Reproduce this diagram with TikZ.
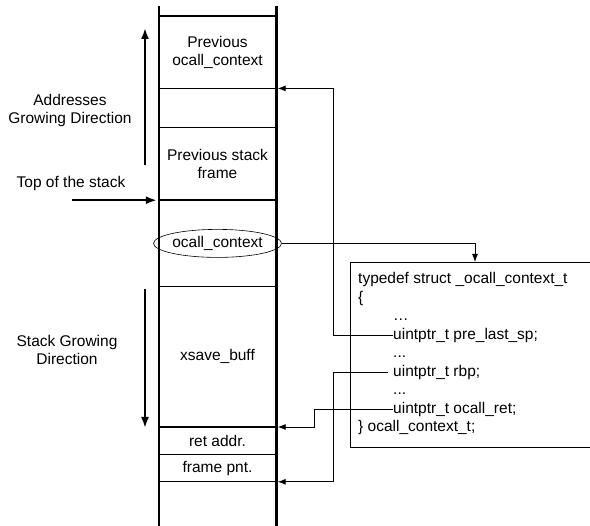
\documentclass[tikz,border=0pt]{standalone}
\usepackage{fontspec}
\setmainfont{Liberation Sans}
\usetikzlibrary{arrows.meta,positioning,shapes.geometric}

\begin{document}
\begin{tikzpicture}[x=1pt, y=-1pt,
    every node/.style={font=\fontsize{15.5}{18}\selectfont},
    cell/.style={rectangle, minimum width=117pt, inner sep=0pt, align=center},
    sep/.style={line width=1.4pt},
    wall/.style={line width=2.6pt},
    conn/.style={-{Latex[length=8pt,width=6pt]}, line width=0.9pt},
    dirarrow/.style={-{Latex[length=11pt,width=8pt]}, line width=2pt},
    code/.style={anchor=west, inner sep=0pt, text height=11pt, text depth=3pt}
]
\useasboundingbox (0,0) rectangle (590,526);
\clip (0,0) rectangle (590,526);

% Stack cells
\node[cell, minimum height=72pt, anchor=north] (c1) at (217.5,16) {Previous\\ocall\_context};
\node[cell, minimum height=39pt, below=0pt of c1] (c2) {};
\node[cell, minimum height=72pt, below=0pt of c2] (c3) {Previous stack\\frame};
\node[cell, minimum height=86pt, below=0pt of c3] (c4) {};
\node[cell, minimum height=140pt, below=0pt of c4] (c5) {xsave\_buff};
\node[cell, minimum height=27pt, below=0pt of c5] (c6) {ret addr.};
\node[cell, minimum height=27pt, below=0pt of c6] (c7) {frame pnt.};
\node[ellipse, draw, line width=0.6pt, minimum width=116pt, minimum height=28pt,
      inner sep=0pt] (ctxptr) at (c4.center) {ocall\_context};

% Separators and walls
\foreach \c in {c1,c2,c3,c4,c5,c6,c7}
    \draw[sep] (\c.north west) -- (\c.north east);
\draw[sep] (c7.south west) -- (c7.south east);
\draw[wall] ([yshift=10pt]c1.north west) -- ++(0,520);
\draw[wall] ([yshift=10pt]c1.north east) -- ++(0,520);

% Left labels
\node[align=center] (addrlbl) at (70,110) {Addresses\\Growing Direction};
\node (toplbl) at (71,183) {Top of the stack};
\node[align=center] (growlbl) at (67,350) {Stack Growing\\Direction};
\coordinate (upfoot) at (145,165);
\coordinate (downtop) at (145,289);
\draw[dirarrow] (upfoot) -- ++(0,-137);
\draw[dirarrow] ([xshift=-87pt]c4.north west) -- ([xshift=-2pt]c4.north west);
\draw[dirarrow] (downtop) -- ++(0,139);

% Struct box
\node[draw, line width=1.2pt, minimum width=250pt, minimum height=185pt,
      anchor=north west] (ctxbox) at (350,262) {};
\node[code] (ln1) at (358,280) {typedef struct \_ocall\_context\_t};
\node[code] (ln2) at (358,298.5) {\{};
\node[code] (ln3) at (393,317) {…};
\node[code] (ln4) at (393,335.5) {uintptr\_t pre\_last\_sp;};
\node[code] (ln5) at (393,354) {...};
\node[code] (ln6) at (393,372.5) {uintptr\_t rbp;};
\node[code] (ln7) at (393,391) {...};
\node[code] (ln8) at (393,409.5) {uintptr\_t ocall\_ret;};
\node[code] (ln9) at (358,428) {\} ocall\_context\_t;};

% Connectors
\draw[conn] (ctxptr.east) -| ([xshift=125pt]ctxbox.north west);
\draw[conn] (ln4.west) -- ++(-60,0) |- ([xshift=1.5pt]c2.north east);
\draw[conn] ([xshift=-5pt]ln6.west) -- ++(-55,0) |- ([xshift=1.5pt]c7.south east);
\draw[conn] (ln8.west) -- ++(-79,0) |- ([xshift=1.5pt]c6.north east);
\end{tikzpicture}
\end{document}
